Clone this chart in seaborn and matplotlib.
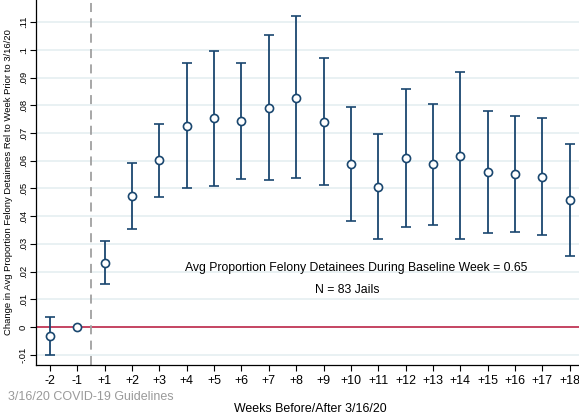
import numpy as np
import pandas as pd
import matplotlib
matplotlib.use("Agg")
import matplotlib.pyplot as plt
import seaborn as sns

# Event-study estimates by week relative to 3/16/20
week_labels = ["-2", "-1", "+1", "+2", "+3", "+4", "+5", "+6", "+7", "+8", "+9",
               "+10", "+11", "+12", "+13", "+14", "+15", "+16", "+17", "+18"]
estimate = [-0.0032, 0.0, 0.0231, 0.0473, 0.0602, 0.0727, 0.0753, 0.0743, 0.0791,
            0.0828, 0.0741, 0.0590, 0.0507, 0.0610, 0.0587, 0.0617, 0.0558,
            0.0551, 0.0543, 0.0458]
ci_low = [-0.0101, 0.0, 0.0154, 0.0354, 0.0470, 0.0503, 0.0510, 0.0534, 0.0531,
          0.0537, 0.0512, 0.0383, 0.0318, 0.0361, 0.0369, 0.0319, 0.0340,
          0.0344, 0.0331, 0.0255]
ci_high = [0.0037, 0.0, 0.0309, 0.0592, 0.0734, 0.0952, 0.0996, 0.0953, 0.1052,
           0.1121, 0.0972, 0.0795, 0.0697, 0.0860, 0.0806, 0.0919, 0.0779,
           0.0761, 0.0755, 0.0662]
y_ticks = [-0.01, 0, 0.01, 0.02, 0.03, 0.04, 0.05, 0.06, 0.07, 0.08, 0.09, 0.10, 0.11]
y_tick_labels = ["-.01", "0", ".01", ".02", ".03", ".04", ".05", ".06", ".07",
                 ".08", ".09", ".1", ".11"]

df = pd.DataFrame({"pos": np.arange(len(week_labels)), "week": week_labels,
                   "est": estimate, "lo": ci_low, "hi": ci_high})

sns.set_theme(style="white")
plt.rcParams["font.family"] = ["Liberation Sans", "DejaVu Sans"]

navy = "#1a476f"
fig = plt.figure(figsize=(5.79, 4.17), dpi=100)
ax = fig.add_axes([36 / 579, 1 - 365 / 417, 1 - 36 / 579, 365 / 417])

# horizontal grid
for t in y_ticks:
    ax.axhline(t, color="#e3edf0", lw=1.1, zorder=0)

# zero reference and policy date
ax.axhline(0, color="#c0284a", lw=1.2, zorder=1)
ax.axvline(0.5 + 1, color="#a0a0a0", lw=1.3, ls=(0, (5, 3.5)), zorder=1)

# confidence intervals (skip the reference week)
ci = df[df["hi"] != df["lo"]]
ax.errorbar(ci["pos"], ci["est"],
            yerr=[ci["est"] - ci["lo"], ci["hi"] - ci["est"]],
            fmt="none", ecolor=navy, elinewidth=1.3, capsize=3.6, capthick=1.2,
            zorder=2)

sns.scatterplot(data=df, x="pos", y="est", ax=ax, marker="o", s=34,
                facecolor="white", edgecolor=navy, linewidth=1.2, zorder=3)

ax.set_xlim(-0.51, 19.34)
ax.set_ylim(-0.0137, 0.118)
ax.set_xticks(df["pos"])
ax.set_xticklabels(week_labels, fontsize=8.9, color="black")
ax.set_yticks(y_ticks)
ax.set_yticklabels(y_tick_labels, fontsize=6.8, rotation=90, va="center",
                   color="black")
ax.tick_params(axis="both", direction="out", length=4, width=0.8,
               color="black", bottom=True, left=True)
ax.tick_params(axis="x", pad=3)
ax.tick_params(axis="y", pad=2)
ax.set_xlabel("")
ax.set_ylabel("Change in Avg Proportion Felony Detainees Rel to Week Prior to 3/16/20",
              fontsize=6.8, color="black", labelpad=4)

for side in ["top", "right"]:
    ax.spines[side].set_visible(False)
for side in ["left", "bottom"]:
    ax.spines[side].set_color("black")
    ax.spines[side].set_linewidth(0.9)

ax.text(11.2, 0.0213, "Avg Proportion Felony Detainees During Baseline Week = 0.65",
        ha="center", va="center", fontsize=8.8, color="black")
ax.text(10.86, 0.0134, "N = 83 Jails", ha="center", va="center",
        fontsize=8.8, color="black")

fig.text(8 / 579, 1 - 397 / 417, "3/16/20 COVID-19 Guidelines", ha="left",
         va="center", fontsize=9.0, color="#9a9a9a")
fig.text(310 / 579, 1 - 409 / 417, "Weeks Before/After 3/16/20", ha="center",
         va="center", fontsize=8.9, color="black")

fig.savefig("out.png", dpi=100)
